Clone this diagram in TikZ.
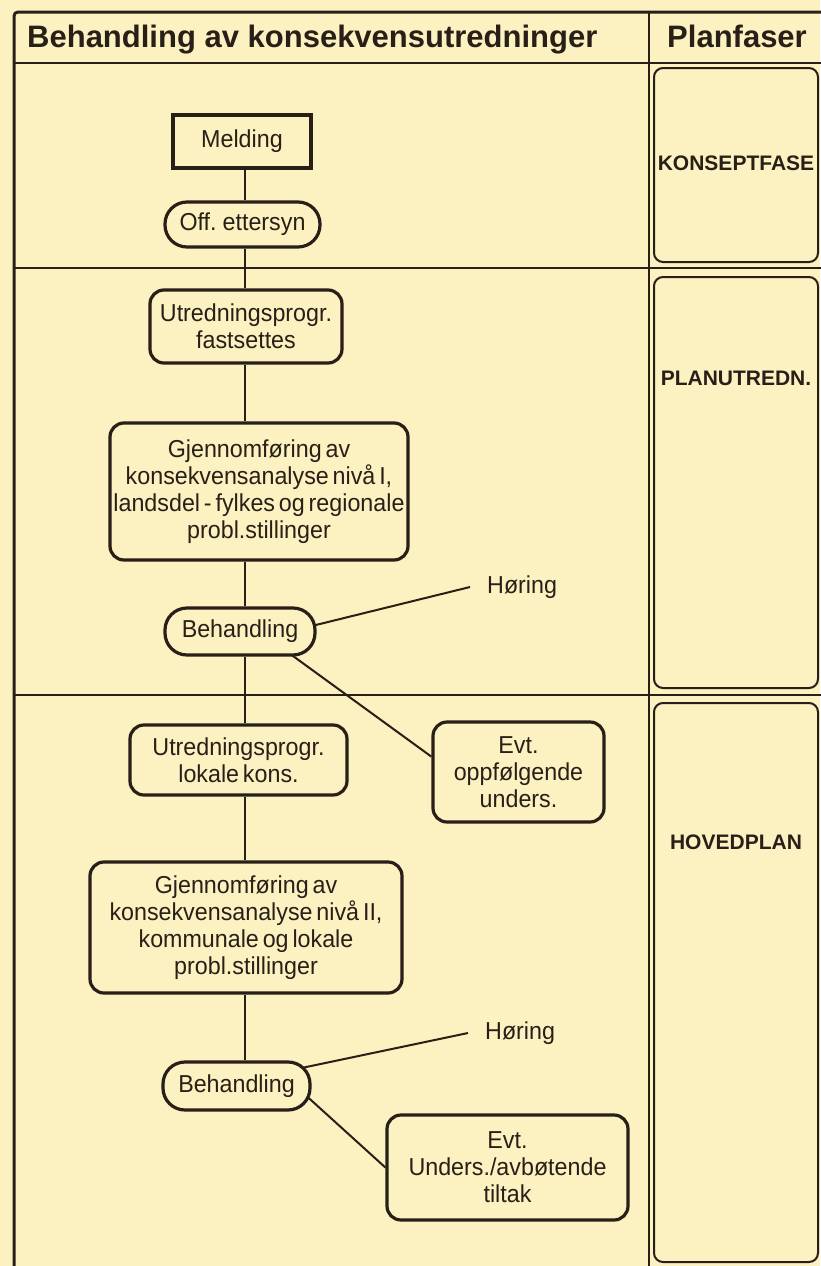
\documentclass[tikz,border=0pt]{standalone}
\usepackage{fontspec}
\setmainfont{Liberation Sans}[WordSpace=0.6, FakeStretch=0.95]
\newfontfamily\headfont{Liberation Sans}
\usetikzlibrary{backgrounds}
\definecolor{paper}{RGB}{252,241,192}
\definecolor{ink}{RGB}{40,32,24}

\begin{document}
\begin{tikzpicture}[x=1pt, y=-1pt,
	rule/.style={draw=ink, line width=2pt},
	link/.style={draw=ink, line width=2pt},
	roundbox/.style={draw=ink, fill=paper, line width=3.2pt, rounded corners=14pt, align=center,
		inner sep=3pt, text=ink, font=\fontsize{24.5}{27}\selectfont},
	pillbox/.style={roundbox, rounded corners=22pt},
	meldbox/.style={roundbox, rounded corners=0pt, line width=3.6pt},
	fasebox/.style={draw=ink, line width=2pt, rounded corners=9pt, minimum width=164pt},
	faselabel/.style={text=ink, font=\headfont\bfseries\fontsize{21}{25}\selectfont},
	heading/.style={text=ink, inner sep=0pt, font=\headfont\bfseries\fontsize{31}{36}\selectfont},
	hearing/.style={text=ink, anchor=west, inner ysep=0pt, inner xsep=17pt,
		font=\fontsize{24.5}{27}\selectfont}]
	\useasboundingbox (0,0) rectangle (820,1266);
	\draw[rule, line width=3pt, rounded corners=4pt] (14,12) rectangle (830,1270);
	\draw[rule] (14,63) -- (830,63);
	\draw[rule] (649,12) -- (649,1270);
	\draw[rule] (14,268) -- (830,268);
	\draw[rule] (14,695) -- (830,695);
	\node[heading, anchor=base west] (htitle) at (27,47) {Behandling av konsekvensutredninger};
	\node[heading, anchor=base] (hfase) at (737,47) {Planfaser};
	\node[fasebox, minimum height=194pt] (fase1) at (736,165) {};
	\node[fasebox, minimum height=411pt] (fase2) at (736,482.5) {};
	\node[fasebox, minimum height=559pt] (fase3) at (736,982.5) {};
	\node[faselabel] (lkonsept) at (736,163) {KONSEPTFASE};
	\node[faselabel] (lplan) at (736,378) {PLANUTREDN.};
	\node[faselabel] (lhoved) at (736,842) {HOVEDPLAN};
	\coordinate (spine) at (245,0);
	\node[meldbox, minimum width=138pt, minimum height=53pt] (meld) at (242,141.5) {Melding};
	\node[pillbox, minimum width=155pt, minimum height=45pt] (off) at (242.5,224.5) {Off. ettersyn};
	\node[roundbox, minimum width=192pt, minimum height=73pt] (utr1) at (246,326.5) {Utredningsprogr.\\fastsettes};
	\node[roundbox, minimum width=298pt, minimum height=137pt] (gjen1) at (259,491.5)
		{Gjennomføring av\\konsekvensanalyse nivå I,\\landsdel - fylkes og regionale\\probl.stillinger};
	\node[pillbox, minimum width=150pt, minimum height=47pt] (beh1) at (240,631.5) {Behandling};
	\node[hearing] (hor1) at (470,587) {Høring};
	\node[roundbox, minimum width=171pt, minimum height=100pt] (evt1) at (518.5,772) {Evt.\\oppfølgende\\unders.};
	\node[roundbox, minimum width=217pt, minimum height=70pt] (utr2) at (238.5,760) {Utredningsprogr.\\lokale kons.};
	\node[roundbox, minimum width=312pt, minimum height=131pt] (gjen2) at (246,927.5)
		{Gjennomføring av\\konsekvensanalyse nivå II,\\kommunale og lokale\\probl.stillinger};
	\node[pillbox, minimum width=147pt, minimum height=48pt] (beh2) at (236.5,1086) {Behandling};
	\node[hearing] (hor2) at (468,1033) {Høring};
	\node[roundbox, minimum width=241pt, minimum height=105pt] (evt2) at (507.5,1167.5) {Evt.\\Unders./avbøtende\\tiltak};
	\foreach \a/\b in {meld/off, off/utr1, utr1/gjen1, gjen1/beh1, beh1/utr2, utr2/gjen2, gjen2/beh2}
		\draw[link] (\a.south -| spine) -- (\b.north -| spine);
	\begin{scope}[on background layer]
		\fill[paper] (0,0) rectangle (820,1266);
		\draw[link, shorten <=-10pt] (beh1.5) -- (hor1.west);
		\draw[link, shorten <=-10pt] (beh1.-25) -- (evt1.170);
		\draw[link, shorten <=-10pt] (beh2.15) -- (hor2.west);
		\draw[link, shorten <=-10pt] (beh2.-11) -- (evt2.west);
	\end{scope}
\end{tikzpicture}
\end{document}
